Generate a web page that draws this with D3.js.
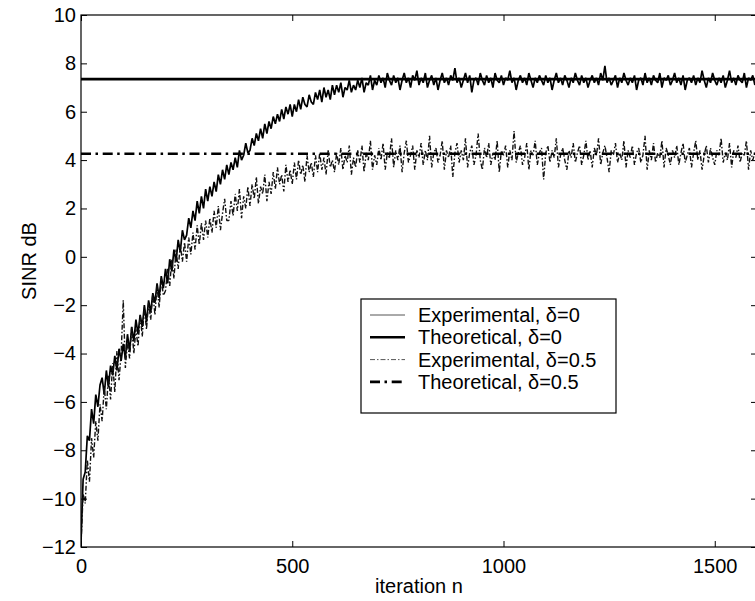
<!DOCTYPE html>
<html>
<head>
<meta charset="utf-8">
<script src="https://cdn.jsdelivr.net/npm/d3@7"></script>
<style>
  html, body { margin: 0; padding: 0; background: #fff; }
  svg { display: block; font-family: "Liberation Sans", Arial, Helvetica, sans-serif; }
</style>
</head>
<body>
<svg id="chart" width="755" height="601"></svg>
<script>
// SINR vs iteration — experimental (noisy) and theoretical curves for two δ values.

const STEP = 5;                       // iterations between stored samples
const X_TICKS = [0, 500, 1000, 1500];
const Y_TICKS = [-12, -10, -8, -6, -4, -2, 0, 2, 4, 6, 8, 10];

const THEO_D0 = 7.35;
const THEO_D05 = 4.26;

// experimental, δ=0 (n = 0, 5, 10, ...)
const EXP_D0 = [
  -11.8, -9.2, -8.9, -7.4, -7.6, -6.3, -6.9, -5.7, -6.2, -5.3,
  -5.0, -5.7, -4.7, -5.4, -4.5, -4.9, -4.1, -4.7, -3.8, -4.3,
  -3.6, -4.2, -3.2, -3.9, -2.9, -3.5, -2.6, -3.2, -2.4, -2.9,
  -2.0, -2.7, -1.8, -2.3, -1.5, -1.9, -1.1, -1.7, -0.8, -1.3,
  -0.5, -1.1, -0.1, -0.6, 0.3, -0.2, 0.7, 0.2, 1.1, 0.7,
  0.9, 1.6, 1.2, 1.9, 1.5, 2.3, 1.8, 2.5, 2.0, 2.8,
  2.3, 2.9, 2.5, 3.1, 2.7, 3.4, 3.0, 3.6, 3.2, 3.8,
  3.4, 3.9, 3.6, 4.1, 3.7, 4.4, 4.0, 4.2, 4.7, 4.3,
  4.4, 4.9, 4.6, 5.1, 4.8, 5.3, 4.9, 5.5, 5.1, 5.6,
  5.3, 5.8, 5.5, 5.9, 5.6, 6.1, 5.7, 6.2, 5.9, 6.3,
  5.8, 6.3, 6.0, 6.5, 6.1, 6.6, 6.3, 6.2, 6.7, 6.4,
  6.3, 6.8, 6.5, 6.9, 6.4, 7.0, 6.6, 6.9, 6.5, 7.1,
  6.7, 7.1, 6.8, 7.2, 6.6, 7.0, 6.9, 7.3, 6.8, 7.1,
  6.9, 7.3, 7.0, 7.4, 6.8, 7.2, 7.1, 7.5, 6.9, 7.3,
  7.1, 7.5, 7.2, 7.4, 7.0, 7.6, 7.3, 7.1, 7.5, 7.2,
  7.4, 6.9, 7.3, 7.6, 7.2, 7.4, 7.0, 7.5, 7.3, 7.7,
  7.1, 7.4, 7.2, 7.6, 7.0, 7.3, 7.5, 7.1, 7.4, 6.9,
  7.3, 7.6, 7.2, 7.4, 7.1, 7.5, 7.3, 7.8, 7.2, 7.4,
  7.0, 7.3, 7.6, 7.2, 7.5, 6.8, 7.3, 7.4, 7.1, 7.6,
  7.3, 7.1, 7.5, 7.2, 7.4, 7.0, 7.6, 7.3, 7.2, 7.5,
  7.1, 7.4, 7.3, 7.7, 7.2, 7.4, 6.9, 7.3, 7.5, 7.2,
  7.4, 7.1, 7.6, 7.3, 7.0, 7.4, 7.2, 7.5, 7.3, 7.1,
  7.5, 7.2, 7.4, 6.9, 7.3, 7.6, 7.2, 7.4, 7.1, 7.5,
  7.3, 7.0, 7.4, 7.2, 7.6, 7.3, 7.1, 7.5, 7.2, 7.4,
  7.0, 7.3, 7.5, 7.2, 7.4, 7.1, 7.6, 7.3, 7.9, 7.2,
  7.4, 7.1, 7.3, 7.5, 7.0, 7.4, 7.2, 7.6, 7.3, 7.1,
  7.4, 7.2, 7.5, 6.9, 7.3, 7.4, 7.1, 7.6, 7.2, 7.4,
  7.1, 7.5, 7.3, 7.2, 7.6, 7.0, 7.4, 7.3, 7.5, 7.1,
  7.3, 7.6, 7.2, 7.4, 7.1, 7.5, 6.9, 7.3, 7.4, 7.2,
  7.5, 7.1, 7.4, 7.2, 7.7, 7.3, 7.0, 7.4, 7.2, 7.6,
  7.3, 7.1, 7.4, 7.2, 7.5, 7.0, 7.3, 7.7, 7.2, 7.4,
  7.1, 7.5, 7.3, 7.2, 7.6, 7.0, 7.4, 7.3, 7.5, 7.1
];

// experimental, δ=0.5 (n = 0, 5, 10, ...)
const EXP_D05 = [
  -11.9, -9.8, -10.2, -8.4, -9.3, -7.5, -8.3, -6.8, -7.6, -6.1,
  -6.8, -5.4, -6.3, -4.9, -5.9, -4.4, -5.6, -3.9, -5.1, -4.0,
  -1.8, -4.6, -3.5, -4.2, -2.9, -4.0, -3.0, -3.7, -2.4, -3.3,
  -2.1, -3.0, -1.9, -2.6, -1.5, -2.4, -1.2, -2.1, -0.9, -1.6,
  -1.4, -0.5, -1.2, -0.1, -0.9, 0.3, -0.5, 0.5, -0.2, 0.6,
  -0.2, 0.8, 0.1, 1.0, 0.3, 1.3, 0.5, 1.4, 0.7, 1.5,
  0.8, 1.6, 1.0, 1.9, 1.2, 2.1, 1.1, 1.8, 2.4, 1.5,
  1.5, 2.3, 1.7, 2.6, 1.9, 2.8, 1.6, 2.5, 2.0, 2.9,
  2.1, 3.0, 2.4, 3.3, 2.2, 2.9, 2.6, 3.4, 2.3, 3.1,
  2.6, 3.5, 2.8, 3.7, 3.0, 3.4, 2.7, 3.8, 3.1, 3.6,
  3.0, 3.9, 3.2, 4.0, 3.4, 3.8, 3.1, 4.2, 3.5, 3.9,
  3.3, 4.2, 3.5, 4.3, 3.6, 4.1, 3.4, 4.4, 3.7, 4.0,
  3.5, 4.3, 3.8, 4.5, 3.6, 4.2, 3.9, 4.6, 3.4, 4.1,
  3.7, 4.4, 3.9, 4.6, 3.5, 4.3, 4.0, 4.8, 3.6, 4.2,
  3.8, 4.5, 4.0, 4.7, 3.6, 4.3, 4.1, 4.9, 3.7, 4.4,
  4.0, 4.6, 3.5, 4.3, 4.8, 3.9, 4.2, 4.6, 3.6, 4.4,
  4.1, 4.7, 3.8, 4.4, 4.0, 5.0, 3.7, 4.3, 4.5, 3.9,
  4.2, 4.8, 3.6, 4.4, 4.1, 4.6, 3.3, 4.3, 4.7, 3.9,
  4.4, 4.0, 4.9, 3.7, 4.3, 4.6, 3.8, 4.2, 5.1, 4.0,
  3.6, 4.5, 4.1, 4.7, 3.8, 4.3, 4.0, 4.8, 3.5, 4.4,
  4.2, 4.6, 3.7, 4.4, 4.0, 5.2, 3.9, 4.3, 4.6, 3.8,
  4.1, 4.7, 3.6, 4.4, 4.2, 4.8, 3.8, 4.3, 4.5, 3.2,
  4.3, 4.6, 3.9, 4.4, 4.1, 4.9, 3.7, 4.2, 4.5, 4.0,
  3.6, 4.4, 4.1, 4.7, 3.9, 4.3, 4.6, 3.8, 4.2, 4.8,
  4.0, 4.4, 3.7, 4.5, 4.2, 4.9, 3.8, 4.3, 4.6, 4.1,
  3.5, 4.4, 4.2, 4.7, 3.9, 4.3, 4.0, 4.8, 3.7, 4.4,
  4.1, 4.6, 3.8, 4.3, 4.5, 3.9, 4.2, 5.0, 3.6, 4.4,
  4.0, 4.7, 3.9, 4.3, 4.1, 4.8, 3.7, 4.5, 4.2, 3.8,
  4.4, 4.1, 4.6, 3.8, 4.3, 4.7, 3.9, 4.2, 4.5, 3.7,
  4.3, 4.8, 4.0, 4.4, 3.6, 4.2, 4.6, 3.9, 4.5, 4.1,
  3.8, 4.4, 4.2, 4.9, 3.9, 4.3, 4.0, 4.7, 3.7, 4.4,
  4.1, 4.6, 3.9, 4.3, 4.2, 4.8, 3.6, 4.4, 4.0, 4.3
];

const LEGEND = [
  { label: 'Experimental, δ=0',   stroke: '#000', width: 1.7, legendStroke: '#555', legendWidth: 1,   dash: null },
  { label: 'Theoretical, δ=0',    stroke: '#000', width: 2.6, legendStroke: '#000', legendWidth: 2.6, dash: null },
  { label: 'Experimental, δ=0.5', stroke: '#111', width: 1.4, legendStroke: '#555', legendWidth: 1,   dash: '5 2 1.5 2' },
  { label: 'Theoretical, δ=0.5',  stroke: '#000', width: 2.6, legendStroke: '#000', legendWidth: 2.6, dash: '10 4.5 2.5 4.7' }
];

const FONT = '20px';

const svg = d3.select('#chart');
const m = { left: 81, top: 15, right: 757, bottom: 547 };

const x = d3.scaleLinear().domain([0, 1600]).range([m.left, m.right]);
const y = d3.scaleLinear().domain([-12, 10]).range([m.bottom, m.top]);

svg.append('defs').append('clipPath').attr('id', 'plot-clip')
  .append('rect').attr('x', m.left).attr('y', m.top)
  .attr('width', m.right - m.left).attr('height', m.bottom - m.top);

const plot = svg.append('g').attr('clip-path', 'url(#plot-clip)');

const line = d3.line().x((d, i) => x(i * STEP)).y(d => y(d));

// experimental δ=0
plot.append('path').datum(EXP_D0)
  .attr('fill', 'none').attr('stroke', LEGEND[0].stroke)
  .attr('stroke-width', LEGEND[0].width).attr('stroke-linejoin', 'bevel').attr('d', line);

// theoretical δ=0
plot.append('line')
  .attr('x1', x(0)).attr('x2', x(1600)).attr('y1', y(THEO_D0)).attr('y2', y(THEO_D0))
  .attr('stroke', LEGEND[1].stroke).attr('stroke-width', LEGEND[1].width);

// experimental δ=0.5
plot.append('path').datum(EXP_D05)
  .attr('fill', 'none').attr('stroke', LEGEND[2].stroke)
  .attr('stroke-width', LEGEND[2].width).attr('stroke-dasharray', LEGEND[2].dash)
  .attr('stroke-linejoin', 'bevel').attr('d', line);

// theoretical δ=0.5
plot.append('line')
  .attr('x1', x(0)).attr('x2', x(1600)).attr('y1', y(THEO_D05)).attr('y2', y(THEO_D05))
  .attr('stroke', LEGEND[3].stroke).attr('stroke-width', LEGEND[3].width)
  .attr('stroke-dasharray', LEGEND[3].dash);

// axes box with inward ticks on all four sides
const TICK = 6;
const styleAxis = g => {
  g.select('.domain').remove();
  g.selectAll('line').attr('stroke', '#000').attr('stroke-width', 1);
  g.selectAll('text').attr('fill', '#000').style('font-size', FONT);
};

svg.append('g').attr('transform', `translate(0,${m.bottom})`)
  .call(d3.axisBottom(x).tickValues(X_TICKS).tickSize(-TICK).tickPadding(12).tickFormat(d3.format('d')))
  .call(styleAxis);
svg.append('g').attr('transform', `translate(0,${m.top})`)
  .call(d3.axisTop(x).tickValues(X_TICKS).tickSize(-TICK).tickFormat(''))
  .call(styleAxis);
svg.append('g').attr('transform', `translate(${m.left},0)`)
  .call(d3.axisLeft(y).tickValues(Y_TICKS).tickSize(-TICK).tickPadding(5)
    .tickFormat(v => v < 0 ? '\u2212' + Math.abs(v) : String(v)))
  .call(styleAxis);
svg.append('g').attr('transform', `translate(${m.right},0)`)
  .call(d3.axisRight(y).tickValues(Y_TICKS).tickSize(-TICK).tickFormat(''))
  .call(styleAxis);

svg.append('rect')
  .attr('x', m.left).attr('y', m.top)
  .attr('width', m.right - m.left).attr('height', m.bottom - m.top)
  .attr('fill', 'none').attr('stroke', '#000').attr('stroke-width', 1.2);

// axis labels
svg.append('text')
  .attr('x', (m.left + m.right) / 2).attr('y', 593)
  .attr('text-anchor', 'middle').style('font-size', FONT)
  .text('iteration n');
svg.append('text')
  .attr('transform', `translate(36,${(m.top + m.bottom) / 2 - 20}) rotate(-90)`)
  .attr('text-anchor', 'middle').style('font-size', FONT)
  .text('SINR dB');

// legend
const lg = svg.append('g');
lg.append('rect')
  .attr('x', 361).attr('y', 299).attr('width', 255).attr('height', 114)
  .attr('fill', '#fff').attr('stroke', '#000').attr('stroke-width', 1.2);
LEGEND.forEach((d, i) => {
  const ly = 315 + i * 22.3;
  lg.append('line')
    .attr('x1', 370).attr('x2', 405).attr('y1', ly).attr('y2', ly)
    .attr('stroke', d.legendStroke).attr('stroke-width', d.legendWidth)
    .attr('stroke-dasharray', d.dash);
  lg.append('text')
    .attr('x', 418).attr('y', ly).attr('dy', '0.35em')
    .style('font-size', FONT)
    .text(d.label);
});
</script>
</body>
</html>
